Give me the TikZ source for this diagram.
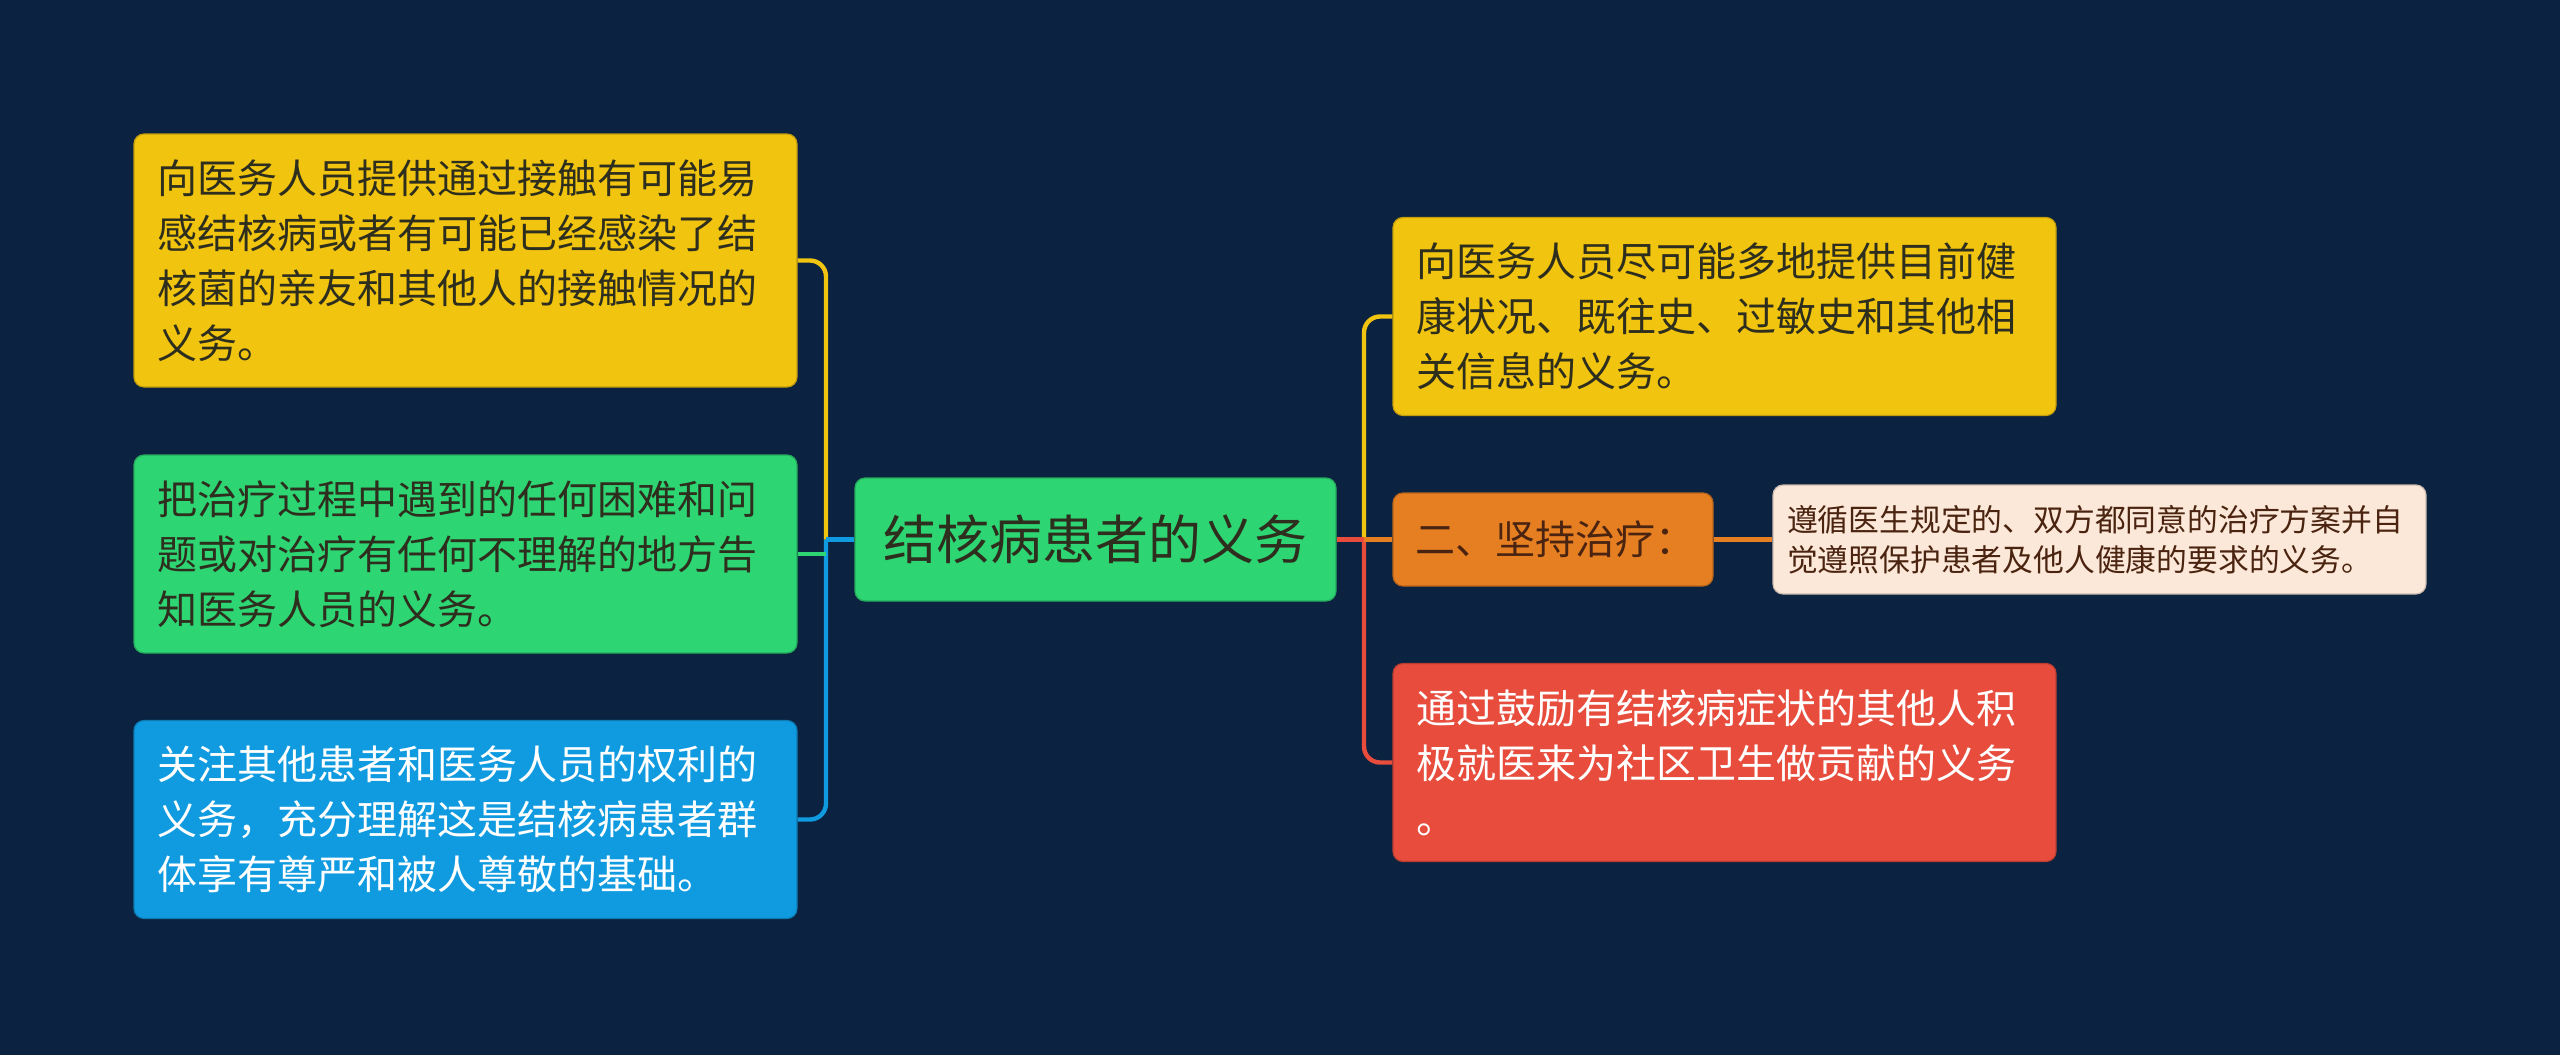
\documentclass[tikz,border=0pt]{standalone}
\usepackage{fontspec}
\setmainfont{Noto Sans CJK SC}
\usepackage{tikz}
\usetikzlibrary{positioning}
\definecolor{bgnavy}{HTML}{0B2240}
\definecolor{dutyyellow}{HTML}{F1C40F}
\definecolor{dutygreen}{HTML}{2ED573}
\definecolor{dutyblue}{HTML}{109BE0}
\definecolor{dutyred}{HTML}{E74C3C}
\definecolor{dutyorange}{HTML}{E67E22}
\definecolor{dutypeach}{HTML}{FCE8D8}
\definecolor{darkink}{HTML}{2E2E1E}
\definecolor{brownink}{HTML}{4A2410}

\begin{document}
\begin{tikzpicture}[x=0.5pt, y=-0.5pt,
	duty/.style={rounded corners=5pt, align=left, inner ysep=0pt, inner xsep=11.5pt,
		text width=308.5pt, minimum height=99pt, line width=0.6pt,
		font=\fontsize{20}{27.5}\selectfont},
	link/.style={line width=2.2pt, rounded corners=8pt}]
	\fill[bgnavy] (0,0) rectangle (2560,1055);
	\useasboundingbox (0,0) rectangle (2560,1055);

	% root
	\node[rounded corners=5pt, fill=dutygreen, draw=dutygreen!80!black, line width=0.6pt,
		minimum width=240.5pt, minimum height=61.5pt, inner sep=0pt, text=darkink,
		font=\fontsize{26.5}{30}\selectfont] (root) at (1095.5,539.5) {结核病患者的义务};

	% left side
	\node[duty, fill=dutyyellow, draw=dutyyellow!80!black, text=darkink, minimum height=126.5pt]
		(inform) at (465.5,260.5) {向医务人员提供通过接触有可能易\\感结核病或者有可能已经感染了结\\核菌的亲友和其他人的接触情况的\\义务。};
	\node[duty, fill=dutygreen, draw=dutygreen!80!black, text=darkink]
		(report) at (465.5,554) {把治疗过程中遇到的任何困难和问\\题或对治疗有任何不理解的地方告\\知医务人员的义务。};
	\node[duty, fill=dutyblue, draw=dutyblue!80!black, text=white]
		(respect) at (465.5,819.5) {关注其他患者和医务人员的权利的\\义务，充分理解这是结核病患者群\\体享有尊严和被人尊敬的基础。};

	% right side
	\node[duty, fill=dutyyellow, draw=dutyyellow!80!black, text=darkink]
		(history) at (1724.5,316.5) {向医务人员尽可能多地提供目前健\\康状况、既往史、过敏史和其他相\\关信息的义务。};
	\node[duty, fill=dutyorange, draw=dutyorange!80!black, text=brownink,
		text width=138pt, inner xsep=11pt, minimum height=46.5pt]
		(treat) at (1553,539.5) {二、坚持治疗：};
	\node[duty, fill=dutypeach, draw=dutypeach!80!black, text=brownink,
		text width=312.5pt, inner xsep=7pt, minimum height=54.5pt,
		font=\fontsize{15.4}{20}\selectfont]
		(follow) at (2099.5,539.5) {遵循医生规定的、双方都同意的治疗方案并自\\觉遵照保护患者及他人健康的要求的义务。};
	\node[duty, fill=dutyred, draw=dutyred!80!black, text=white]
		(encourage) at (1724.5,762.5) {通过鼓励有结核病症状的其他人积\\极就医来为社区卫生做贡献的义务\\。};

	% connectors
	\coordinate (ljoin) at (826,539.5);
	\coordinate (rjoin) at (1364,539.5);
	\draw[link, dutyyellow] (ljoin) |- (inform.east);
	\draw[link, dutyblue] (ljoin) |- (respect.east);
	\draw[link, dutygreen] (ljoin |- report.east) -- (report.east);
	\draw[link, dutyblue] (root.west) -- (ljoin);
	\draw[link, dutyyellow] (rjoin) |- (history.west);
	\draw[link, dutyred] (rjoin) |- (encourage.west);
	\draw[link, dutyred] (root.east) -- (rjoin);
	\draw[link, dutyorange] (rjoin) -- (treat.west);
	\draw[link, dutyorange] (treat.east) -- (follow.west);
\end{tikzpicture}
\end{document}
